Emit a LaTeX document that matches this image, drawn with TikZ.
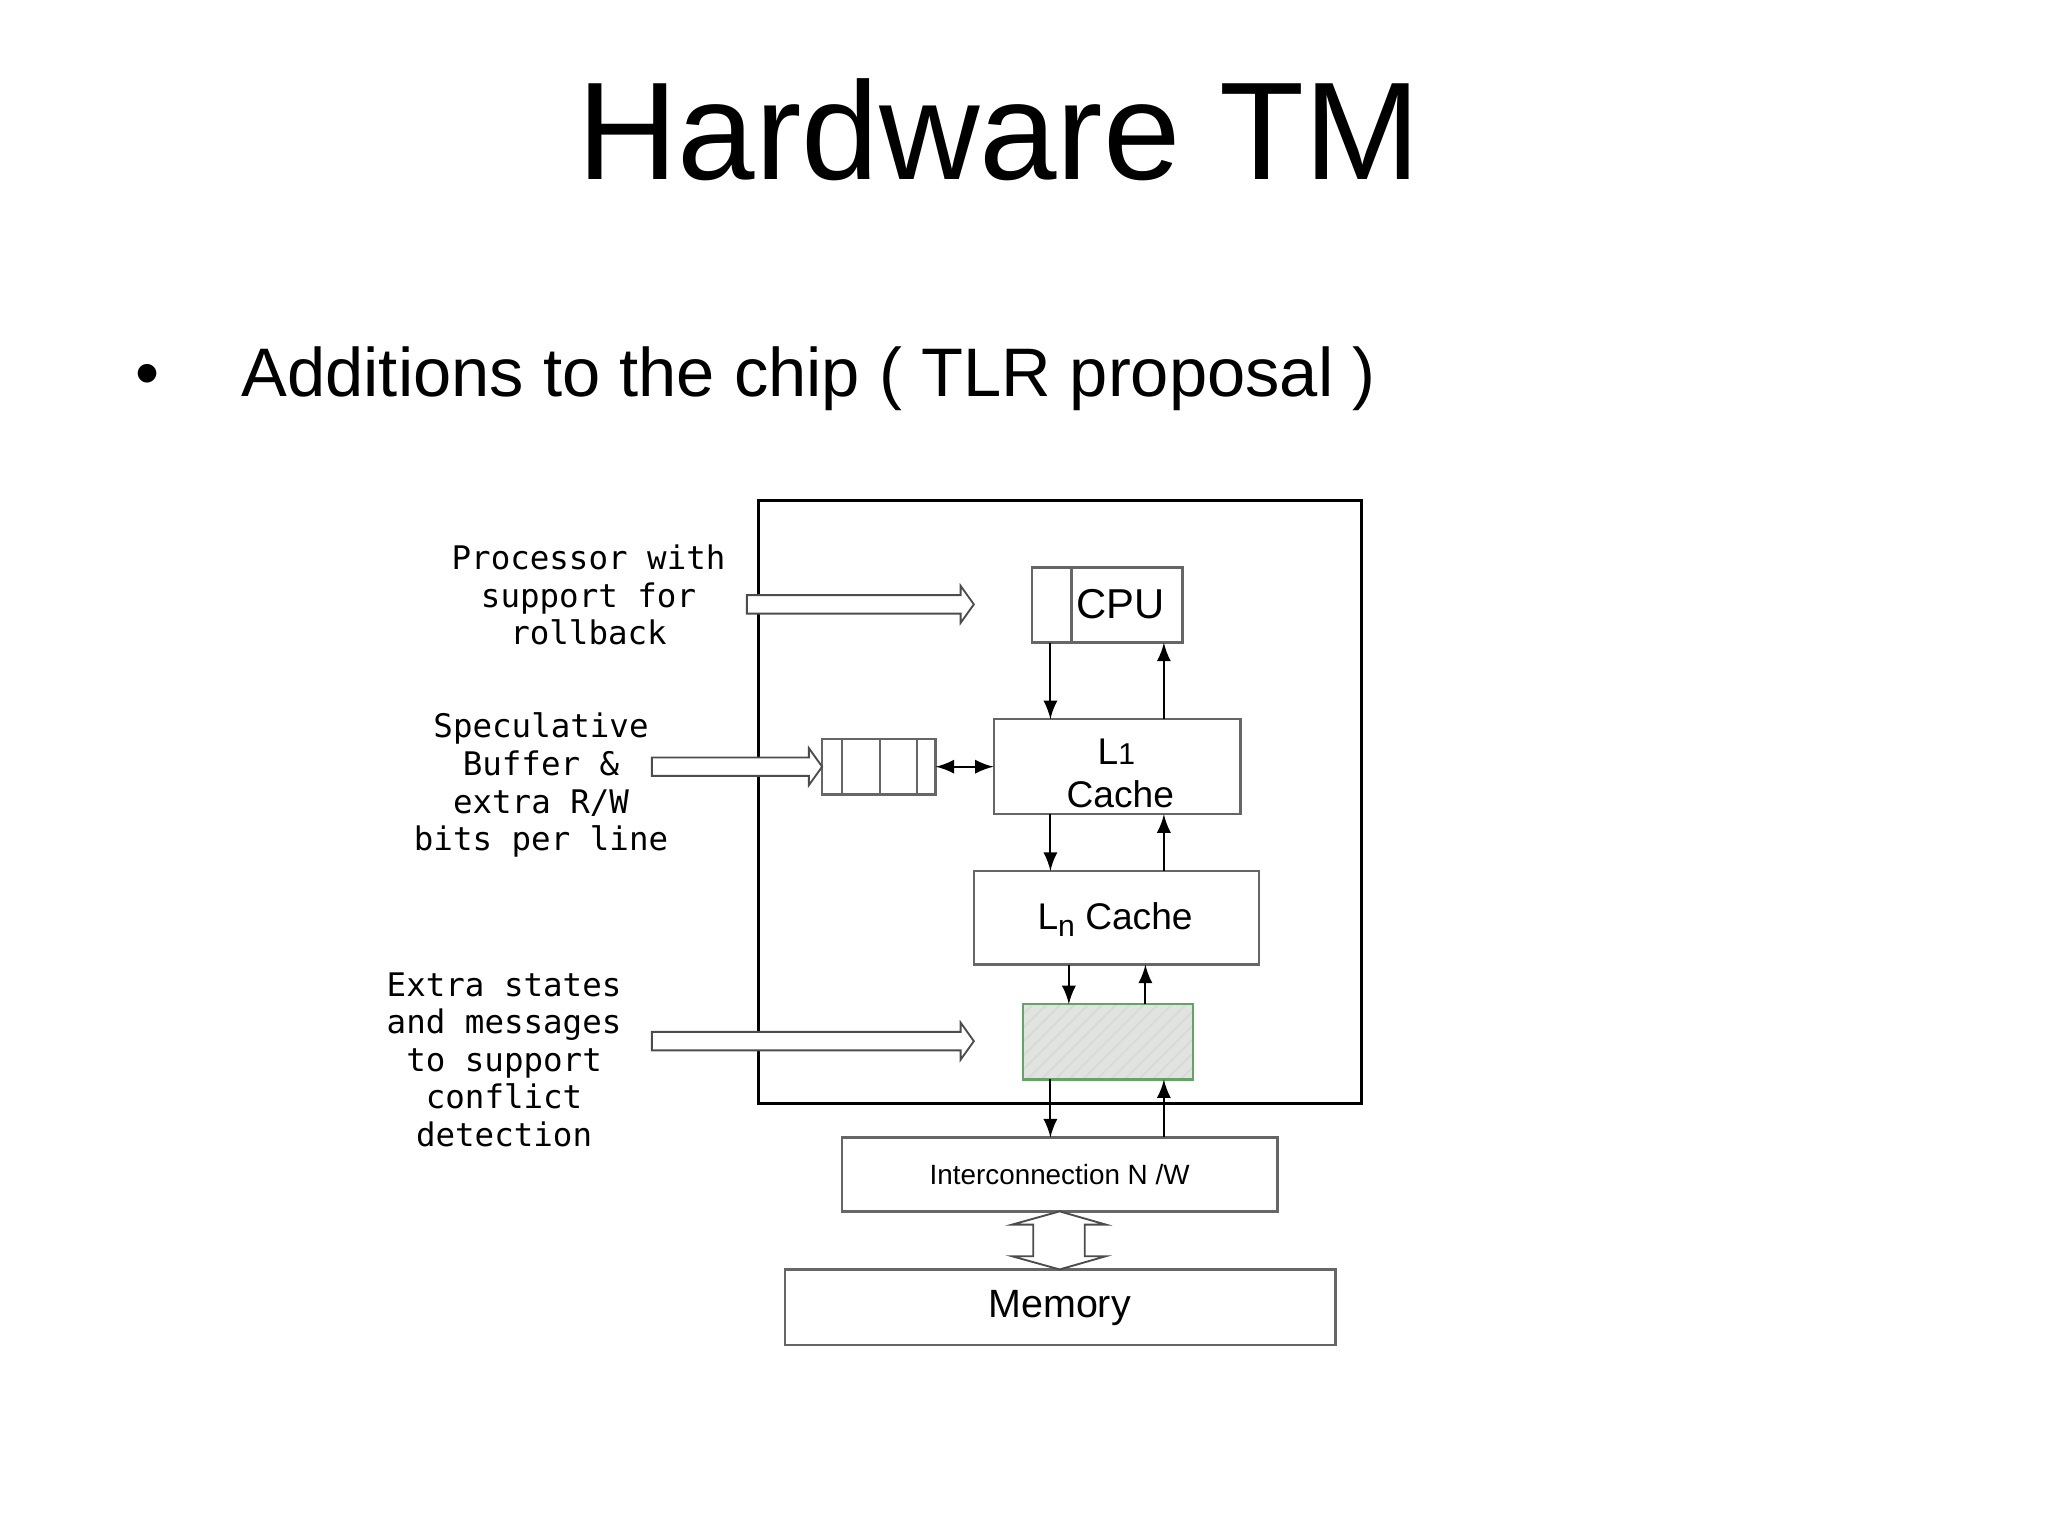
\documentclass[tikz,border=0pt]{standalone}
\usepackage{fontspec}
\setmainfont{Liberation Sans}
\newfontfamily\monof{DejaVu Sans Mono}
\usetikzlibrary{patterns}
\begin{document}
\begin{tikzpicture}[x=0.01cm,y=-0.01cm,
  box/.style={draw=black!60,line width=0.5pt},
  ar/.style={-latex,line width=0.4pt},
  hollow/.style={draw=black!70,line width=0.4pt,fill=white},
  mono/.style={font=\monof\fontsize{7}{8.1}\selectfont,align=center}]
\useasboundingbox (0,0) rectangle (1552,1164);
\node (title) at (757,98) {\fontsize{30}{36}\selectfont Hardware TM};
\node[anchor=west] (bul) at (90,287) {\fontsize{14.8}{18}\selectfont\textbullet\hspace{1.2em}Additions to the chip ( TLR proposal )};
\draw[line width=0.6pt] (575,379) rectangle (1032,836);
% CPU
\draw[box] (782,430) rectangle (896,487);
\draw[box] (812,430) -- (812,487);
\node (cpu) at (849,458) {\fontsize{9}{10}\selectfont CPU};
\coordinate (cpuB1) at (796,487); \coordinate (cpuB2) at (882,487);
% L1
\draw[box] (753,545) rectangle (940,617);
\node at (846,570) {\fontsize{8}{9}\selectfont L\raisebox{0pt}{\fontsize{6.5}{7}\selectfont 1}};
\node at (849,602) {\fontsize{8}{9}\selectfont Cache};
\coordinate (l1T1) at (796,545); \coordinate (l1T2) at (882,545);
\coordinate (l1B1) at (796,617); \coordinate (l1B2) at (882,617);
\coordinate (l1L) at (753,581);
% Ln
\draw[box] (738,660) rectangle (954,731);
\node at (845,697) {\fontsize{8}{9}\selectfont L\raisebox{-0.35ex}{\fontsize{6.5}{7}\selectfont n} Cache};
\coordinate (lnT1) at (796,660); \coordinate (lnT2) at (882,660);
\coordinate (lnB1) at (810,731); \coordinate (lnB2) at (868,731);
% green
\fill[green!10!black!12] (775,761) rectangle (904,818);
\fill[pattern=north east lines,pattern color=black!15] (775,761) rectangle (904,818);
\draw[draw=black!60!green!60,line width=0.5pt] (775,761) rectangle (904,818);
\coordinate (gT1) at (810,761); \coordinate (gT2) at (868,761);
\coordinate (gB1) at (796,818); \coordinate (gB2) at (882,818);
% interconnect
\draw[box] (638,862) rectangle (968,918);
\node (ic) at (803,890) {\fontsize{6}{7}\selectfont Interconnection N /W};
\coordinate (icT1) at (796,862); \coordinate (icT2) at (882,862);
% memory
\draw[box] (595,962) rectangle (1012,1019);
\node (mem) at (803,991) {\fontsize{8.5}{10}\selectfont Memory};
% buffer
\draw[box] (623,560) rectangle (709,602);
\foreach \x in {638,667,695} \draw[box] (\x,560) -- (\x,602);
\coordinate (bufR) at (709,581);
% arrows
\draw[ar] (cpuB1) -- (l1T1); \draw[ar] (l1T2) -- (cpuB2);
\draw[ar] (l1B1) -- (lnT1); \draw[ar] (lnT2) -- (l1B2);
\draw[ar] (lnB1) -- (gT1); \draw[ar] (gT2) -- (lnB2);
\draw[ar] (gB1) -- (icT1); \draw[ar] (icT2) -- (gB2);
\draw[latex-latex,line width=0.4pt] (bufR) -- (l1L);
% hollow arrows
\foreach \xa/\xb/\y in {566/738/458, 494/623/581, 494/738/789}
  \draw[hollow] (\xa,\y-7) -- (\xb-10,\y-7) -- (\xb-10,\y-14) -- (\xb,\y) -- (\xb-10,\y+14) -- (\xb-10,\y+7) -- (\xa,\y+7) -- cycle;
\draw[hollow] (803,918) -- (838,928) -- (822,928) -- (822,952) -- (838,952) -- (803,962) -- (767,952) -- (783,952) -- (783,928) -- (767,928) -- cycle;
% labels
\node[mono] (t1) at (446,451) {Processor with\\support for\\rollback};
\node[mono] (t2) at (410,595) {Speculative\\Buffer \&\\extra R/W\\bits per line};
\node[mono] (t3) at (382,803) {Extra states\\and messages\\to support\\conflict\\detection};
\end{tikzpicture}
\end{document}
